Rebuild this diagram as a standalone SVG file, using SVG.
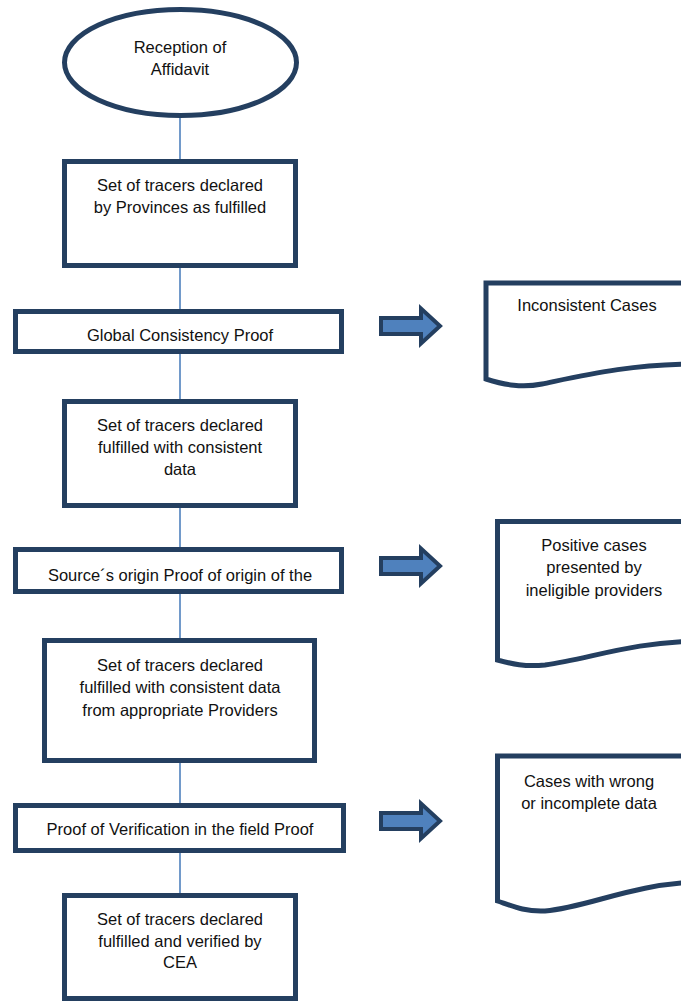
<svg xmlns="http://www.w3.org/2000/svg" width="681" height="1001" viewBox="0 0 681 1001">
<style>
.shape{fill:#ffffff;stroke:#243f60;stroke-width:5}
.doc{fill:#ffffff;stroke:#243f60;stroke-width:5;stroke-linejoin:miter}
.arrow{fill:#4f81bd;stroke:#243f60;stroke-width:4;stroke-linejoin:miter}
.conn{stroke:#4f81bd;stroke-width:1.6;fill:none}
text{font-family:"Liberation Sans",Arial,sans-serif;font-size:16.5px;fill:#111111;text-anchor:middle}
</style>
<rect width="681" height="1001" fill="#ffffff"/>
<g id="connectors">
<line class="conn" x1="180" y1="118" x2="180" y2="159"/>
<line class="conn" x1="180" y1="268" x2="180" y2="309"/>
<line class="conn" x1="180" y1="354" x2="180" y2="399"/>
<line class="conn" x1="180" y1="508" x2="180" y2="547"/>
<line class="conn" x1="180" y1="594" x2="180" y2="638"/>
<line class="conn" x1="180" y1="763" x2="180" y2="803"/>
<line class="conn" x1="180" y1="853" x2="180" y2="893"/>
</g>
<g id="reception">
<ellipse class="shape" cx="180.5" cy="62.5" rx="116" ry="53"/>
<text x="180" y="53">Reception of</text>
<text x="180" y="75">Affidavit</text>
</g>
<g id="declared-provinces">
<rect class="shape" x="64.5" y="161.5" width="231" height="104"/>
<text x="180" y="191">Set of tracers declared</text>
<text x="180" y="213">by Provinces as fulfilled</text>
</g>
<g id="global-consistency">
<rect class="shape" x="15.5" y="311.5" width="326" height="40"/>
<text x="180" y="341">Global Consistency Proof</text>
</g>
<g id="declared-consistent">
<rect class="shape" x="64.5" y="401.5" width="231" height="104"/>
<text x="180" y="431">Set of tracers declared</text>
<text x="180" y="453">fulfilled with consistent</text>
<text x="180" y="475">data</text>
</g>
<g id="source-origin">
<rect class="shape" x="15.5" y="549.5" width="326" height="42"/>
<text x="180" y="581">Source´s origin Proof of origin of the</text>
</g>
<g id="declared-providers">
<rect class="shape" x="44.5" y="640.5" width="270" height="120"/>
<text x="180" y="671">Set of tracers declared</text>
<text x="180" y="693">fulfilled with consistent data</text>
<text x="180" y="716">from appropriate Providers</text>
</g>
<g id="verification">
<rect class="shape" x="15.5" y="805.5" width="328" height="45"/>
<text x="180" y="835">Proof of Verification in the field Proof</text>
</g>
<g id="declared-verified">
<rect class="shape" x="64.5" y="895.5" width="231" height="103"/>
<text x="180" y="925">Set of tracers declared</text>
<text x="180" y="947">fulfilled and verified by</text>
<text x="180" y="968">CEA</text>
</g>
<g id="arrow-1">
<polygon class="arrow" points="381,318 421,318 421,308.5 440,326 421,343.5 421,334 381,334"/>
</g>
<g id="arrow-2">
<polygon class="arrow" points="381,558 421,558 421,548.5 440,566 421,583.5 421,574 381,574"/>
</g>
<g id="arrow-3">
<polygon class="arrow" points="381,813 421,813 421,803.5 440,821 421,838.5 421,829 381,829"/>
</g>
<g id="inconsistent-cases">
<path class="doc" d="M700,283 L486,283 L486,379 C505,385 522,388 542,384 C585,375 630,364 700,364"/>
<text x="587" y="311">Inconsistent Cases</text>
</g>
<g id="ineligible-providers">
<path class="doc" d="M700,521.5 L497.5,521.5 L497.5,660 C512,664 525,667 545,665 C590,659 630,642 700,641"/>
<text x="594" y="551">Positive cases</text>
<text x="594" y="573">presented by</text>
<text x="594" y="596">ineligible providers</text>
</g>
<g id="wrong-data">
<path class="doc" d="M700,756 L497.5,756 L497.5,901 C512,906 525,912 545,911 C590,907 630,884 700,882"/>
<text x="589" y="787">Cases with wrong</text>
<text x="589" y="809">or incomplete data</text>
</g>
</svg>
